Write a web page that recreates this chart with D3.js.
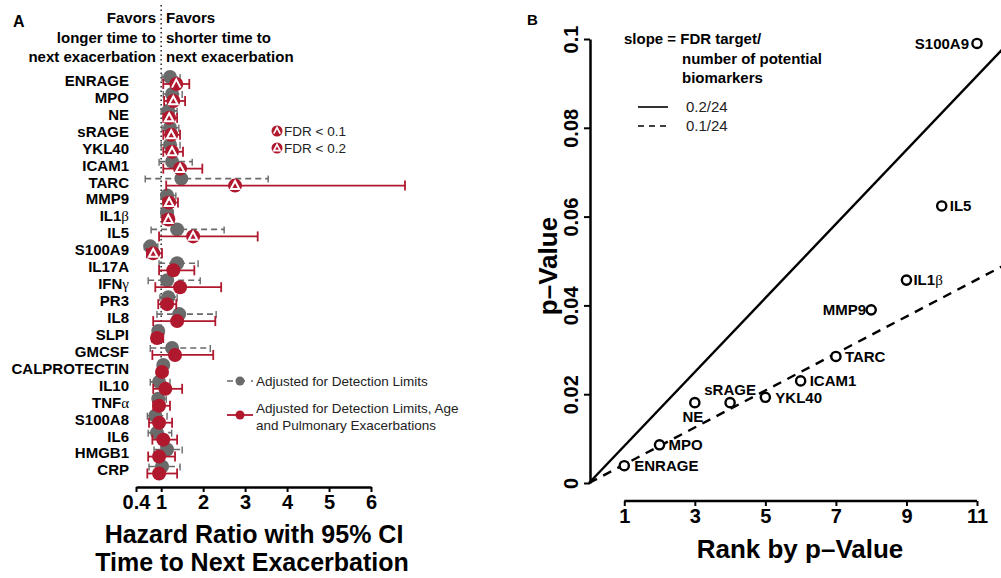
<!DOCTYPE html>
<html>
<head>
<meta charset="utf-8">
<script src="https://cdn.jsdelivr.net/npm/d3@7"></script>
<style>
  body { margin: 0; background: #fff; }
  svg { display: block; font-family: "Liberation Sans", Arial, sans-serif; }
</style>
</head>
<body>
<svg id="chart" width="1001" height="578"></svg>
<script>
// ---- panel A data: hazard ratios ----
const markers = ["ENRAGE","MPO","NE","sRAGE","YKL40","ICAM1","TARC","MMP9","IL1β","IL5","S100A9",
  "IL17A","IFNγ","PR3","IL8","SLPI","GMCSF","CALPROTECTIN","IL10","TNFα","S100A8","IL6","HMGB1","CRP"];
// adjusted for detection limits (grey)
const hrDet = [1.21,1.26,1.17,1.21,1.21,1.26,1.48,1.14,1.14,1.38,0.74,1.38,1.14,1.17,1.43,0.93,1.26,1.05,0.95,0.93,0.86,0.90,1.14,1.02];
const loDet = [1.02,1.05,1.00,1.02,1.00,0.95,0.62,1.00,1.00,0.76,0.60,0.95,0.69,0.97,0.90,0.80,0.74,0.95,0.74,0.80,0.67,0.69,0.83,0.71];
const hiDet = [1.45,1.50,1.38,1.42,1.45,1.74,3.55,1.35,1.28,2.50,0.92,1.88,1.93,1.38,2.31,1.05,2.17,1.15,1.21,1.12,1.14,1.25,1.50,1.45];
// adjusted for detection limits, age and pulmonary exacerbations (red)
const hrAll = [1.36,1.29,1.19,1.24,1.26,1.45,2.76,1.19,1.17,1.76,0.81,1.29,1.45,1.14,1.38,0.90,1.33,1.02,1.10,0.95,0.95,1.05,0.95,0.95];
const loAll = [1.05,1.07,1.05,1.05,1.05,1.05,1.12,1.05,1.03,0.95,0.66,0.95,0.86,0.93,0.81,0.79,0.79,0.95,0.81,0.81,0.71,0.79,0.69,0.67];
const hiAll = [1.67,1.57,1.38,1.45,1.52,1.98,6.81,1.40,1.29,3.30,1.02,1.79,2.43,1.36,2.29,1.05,2.24,1.10,1.50,1.21,1.26,1.38,1.33,1.38];
const fdrLevel = [0.1,0.2,0.2,0.2,0.2,0.2,0.2,0.2,0.2,0.2,0.2,null,null,null,null,null,null,null,null,null,null,null,null,null];
const hrTicks = [0.4,1,2,3,4,5,6];

// ---- panel B data: p-values ranked ----
const rankNames = ["ENRAGE","MPO","NE","sRAGE","YKL40","ICAM1","TARC","MMP9","IL1β","IL5","S100A9"];
const pValues = [0.0039,0.0086,0.0181,0.0181,0.0193,0.0230,0.0285,0.0390,0.0457,0.0624,0.0990];
const fdrTargets = ["0.2/24","0.1/24"];
const slopes = [0.2/24, 0.1/24];
const rankTicks = [1,3,5,7,9,11];
const pTicks = [0,0.02,0.04,0.06,0.08,0.1];

const RED = "#b0182e", GREY = "#6a6a6a";
const svg = d3.select("#chart");

function greekLabel(sel, name) {
  const m = name.match(/^(.*?)([αβγ])$/);
  if (m) {
    sel.append("tspan").text(m[1]);
    sel.append("tspan").attr("font-weight", "normal")
      .attr("font-family", "'Liberation Serif', serif").text(m[2]);
  } else sel.text(name);
}

function triPath(level) {
  return level === 0.1 ? "M-4.3,3.6 L0,-4.6 L4.3,3.6" : "M0,-4.6 L4.3,3.4 L-4.3,3.4 Z";
}

// ================= Panel A =================
const gA = svg.append("g");
const x = d3.scaleLinear().domain([0.4, 6]).range([136, 371]);
const y = d3.scalePoint().domain(markers).range([80.5, 470]);

gA.append("text").attr("x", 13).attr("y", 27).attr("font-size", 16).attr("font-weight", "bold").text("A");

const headL = ["Favors", "longer time to", "next exacerbation"];
const headR = ["Favors", "shorter time to", "next exacerbation"];
headL.forEach((t, i) => gA.append("text").attr("x", 156).attr("y", 23 + i * 19.5)
  .attr("text-anchor", "end").attr("font-size", 15).attr("font-weight", "bold").text(t));
headR.forEach((t, i) => gA.append("text").attr("x", 166).attr("y", 23 + i * 19.5)
  .attr("font-size", 15).attr("font-weight", "bold").text(t));

gA.append("line").attr("x1", x(1)).attr("x2", x(1)).attr("y1", 5).attr("y2", 482)
  .attr("stroke", "#333").attr("stroke-width", 1.6).attr("stroke-dasharray", "1.5,3");

gA.selectAll("text.row").data(markers).enter().append("text")
  .attr("class", "row").attr("x", 129).attr("y", d => y(d)).attr("dy", "0.36em")
  .attr("text-anchor", "end").attr("font-size", 15).attr("font-weight", "bold")
  .each(function(d) { greekLabel(d3.select(this), d); });

// grey CIs and points
const off = 3.5;
markers.forEach((m, i) => {
  const yy = y(m) - off;
  gA.append("line").attr("x1", x(loDet[i])).attr("x2", x(hiDet[i])).attr("y1", yy).attr("y2", yy)
    .attr("stroke", GREY).attr("stroke-width", 1.6).attr("stroke-dasharray", "6,4");
  [loDet[i], hiDet[i]].forEach(v => gA.append("line").attr("x1", x(v)).attr("x2", x(v))
    .attr("y1", yy - 3).attr("y2", yy + 4).attr("stroke", GREY).attr("stroke-width", 1.4));
});
gA.selectAll("circle.det").data(markers).enter().append("circle")
  .attr("cx", (d, i) => x(hrDet[i])).attr("cy", d => y(d) - off).attr("r", 7).attr("fill", GREY);

// red CIs and points
markers.forEach((m, i) => {
  const yy = y(m) + off;
  gA.append("line").attr("x1", x(loAll[i])).attr("x2", x(hiAll[i])).attr("y1", yy).attr("y2", yy)
    .attr("stroke", RED).attr("stroke-width", 1.8);
  [loAll[i], hiAll[i]].forEach(v => gA.append("line").attr("x1", x(v)).attr("x2", x(v))
    .attr("y1", yy - 5).attr("y2", yy + 5).attr("stroke", RED).attr("stroke-width", 1.8));
});
gA.selectAll("circle.all").data(markers).enter().append("circle")
  .attr("cx", (d, i) => x(hrAll[i])).attr("cy", d => y(d) + off).attr("r", 7).attr("fill", RED);
gA.selectAll("path.tri").data(markers.filter((d, i) => fdrLevel[i])).enter().append("path")
  .attr("transform", d => `translate(${x(hrAll[markers.indexOf(d)])},${y(d) + off})`)
  .attr("d", d => triPath(fdrLevel[markers.indexOf(d)]))
  .attr("fill", "none").attr("stroke", "#fff").attr("stroke-width", 2).attr("stroke-linejoin", "miter");

// axis A
const axA = gA.append("g").attr("transform", "translate(0,487)")
  .call(d3.axisBottom(x).tickValues(hrTicks).tickFormat(d => d === 0.4 ? "0.4" : d).tickSize(5).tickSizeOuter(0));
axA.select(".domain").attr("stroke-width", 2.5);
axA.selectAll(".tick line").attr("stroke-width", 2);
axA.selectAll("text").attr("font-size", 20).attr("font-weight", "bold").attr("y", 8)
  .attr("font-family", "'Liberation Sans', Arial, sans-serif").attr("fill", "#000");

gA.append("text").attr("x", 254).attr("y", 543).attr("text-anchor", "middle")
  .attr("font-size", 25).attr("font-weight", "bold").text("Hazard Ratio with 95% CI");
gA.append("text").attr("x", 252).attr("y", 571).attr("text-anchor", "middle")
  .attr("font-size", 25).attr("font-weight", "bold").text("Time to Next Exacerbation");

// FDR legend
[0.1, 0.2].forEach((lv, i) => {
  const ly = 131 + i * 17;
  gA.append("circle").attr("cx", 277).attr("cy", ly).attr("r", 5.5).attr("fill", RED);
  gA.append("path").attr("transform", `translate(277,${ly}) scale(0.75)`).attr("d", triPath(lv))
    .attr("fill", "none").attr("stroke", "#fff").attr("stroke-width", 2.2);
  gA.append("text").attr("x", 284).attr("y", ly).attr("dy", "0.36em").attr("font-size", 13.5)
    .attr("fill", "#222").text("FDR < " + lv);
});

// series legend
gA.append("line").attr("x1", 227).attr("x2", 253).attr("y1", 381).attr("y2", 381)
  .attr("stroke", GREY).attr("stroke-width", 1.6).attr("stroke-dasharray", "6,6");
gA.append("circle").attr("cx", 240).attr("cy", 381).attr("r", 4.5).attr("fill", GREY);
gA.append("text").attr("x", 256).attr("y", 381).attr("dy", "0.36em").attr("font-size", 13.5)
  .attr("fill", "#222").text("Adjusted for Detection Limits");
gA.append("line").attr("x1", 227).attr("x2", 253).attr("y1", 415).attr("y2", 415)
  .attr("stroke", RED).attr("stroke-width", 1.8);
gA.append("circle").attr("cx", 240).attr("cy", 415).attr("r", 4.5).attr("fill", RED);
["Adjusted for Detection Limits, Age", "and Pulmonary Exacerbations"].forEach((t, i) =>
  gA.append("text").attr("x", 256).attr("y", 408 + i * 17).attr("dy", "0.36em").attr("font-size", 13.5)
    .attr("fill", "#222").text(t));

// ================= Panel B =================
const gB = svg.append("g");
const xr = d3.scaleLinear().domain([0, 11]).range([589, 977]);
const yp = d3.scaleLinear().domain([0, 0.1]).range([483, 39]);

gB.append("text").attr("x", 527).attr("y", 25).attr("font-size", 15).attr("font-weight", "bold").text("B");

// FDR threshold lines from origin
const lineGen = d3.line().x(d => xr(d[0])).y(d => yp(d[1]));
slopes.forEach((s, i) => {
  gB.append("path").attr("d", lineGen([[0, 0], [12, 12 * s]]))
    .attr("fill", "none").attr("stroke", "#000").attr("stroke-width", 2.4)
    .attr("stroke-dasharray", i === 1 ? "9,7" : null);
});

// axes B
const axY = gB.append("g").attr("transform", `translate(${xr(0) + 1},0)`)
  .call(d3.axisLeft(yp).tickValues(pTicks).tickFormat(d => d === 0 ? "0" : d3.format("~g")(d)).tickSize(6).tickSizeOuter(0));
axY.select(".domain").attr("stroke-width", 2.5);
axY.selectAll(".tick line").attr("stroke-width", 2);
axY.selectAll("text").attr("transform", "rotate(-90)").attr("x", 0).attr("y", -12).attr("dy", 0)
  .attr("text-anchor", "middle").attr("font-size", 20).attr("font-weight", "bold")
  .attr("font-family", "'Liberation Sans', Arial, sans-serif").attr("fill", "#000");

const axX = gB.append("g").attr("transform", "translate(0,501)")
  .call(d3.axisBottom(xr).tickValues(rankTicks).tickSize(5).tickSizeOuter(0));
axX.select(".domain").remove();
axX.append("line").attr("x1", xr(1)).attr("x2", xr(11)).attr("stroke", "#000").attr("stroke-width", 2.5);
axX.selectAll(".tick line").attr("stroke-width", 2);
axX.selectAll("text").attr("font-size", 20).attr("font-weight", "bold").attr("y", 8)
  .attr("font-family", "'Liberation Sans', Arial, sans-serif").attr("fill", "#000");

gB.append("text").attr("x", 800).attr("y", 558).attr("text-anchor", "middle")
  .attr("font-size", 26).attr("font-weight", "bold").text("Rank by p\u2013Value");
gB.append("text").attr("transform", "translate(557,266) rotate(-90)").attr("text-anchor", "middle")
  .attr("font-size", 26).attr("font-weight", "bold").text("p\u2013Value");

// slope legend
[["slope = FDR target/", 624], ["number of potential", 682], ["biomarkers", 682]].forEach((t, i) =>
  gB.append("text").attr("x", t[1]).attr("y", 39 + i * 19.5).attr("dy", "0.36em")
    .attr("font-size", 15).attr("font-weight", "bold").text(t[0]));
fdrTargets.forEach((t, i) => {
  const ly = 107 + i * 19;
  gB.append("line").attr("x1", 638).attr("x2", 668).attr("y1", ly).attr("y2", ly)
    .attr("stroke", "#000").attr("stroke-width", 1.6).attr("stroke-dasharray", i === 1 ? "6,5" : null);
  gB.append("text").attr("x", 686).attr("y", ly).attr("dy", "0.36em").attr("font-size", 15)
    .attr("fill", "#222").text(t);
});

// points
gB.selectAll("circle.p").data(pValues).enter().append("circle")
  .attr("cx", (d, i) => xr(i + 1)).attr("cy", d => yp(d)).attr("r", 4.6)
  .attr("fill", "#fff").attr("stroke", "#000").attr("stroke-width", 2.4);

// label placement (dx, dy, anchor)
const labelPos = {
  "ENRAGE": [10, 0, "start"], "MPO": [9, 0, "start"], "NE": [-2, 14, "middle"],
  "sRAGE": [0, -13, "middle"], "YKL40": [10, 0, "start"], "ICAM1": [9, 0, "start"],
  "TARC": [9, 0, "start"], "MMP9": [-5, 0, "end"], "IL1β": [7, 0, "start"],
  "IL5": [8, 0, "start"], "S100A9": [-8, 0, "end"]
};
gB.selectAll("text.pl").data(rankNames).enter().append("text")
  .attr("x", (d, i) => xr(i + 1) + labelPos[d][0])
  .attr("y", (d, i) => yp(pValues[i]) + labelPos[d][1]).attr("dy", "0.36em")
  .attr("text-anchor", d => labelPos[d][2])
  .attr("font-size", 15).attr("font-weight", "bold")
  .each(function(d) { greekLabel(d3.select(this), d); });
</script>
</body>
</html>
